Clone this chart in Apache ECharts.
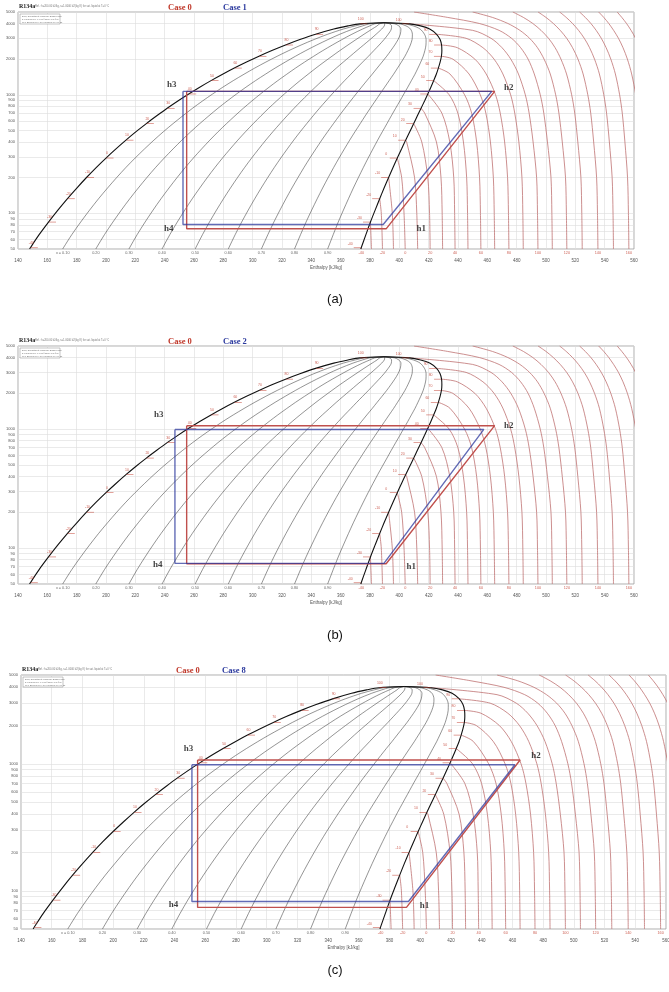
<!DOCTYPE html>
<html>
<head>
<meta charset="utf-8">
<script src="https://cdn.jsdelivr.net/npm/echarts@6/dist/echarts.min.js"></script>
<style>
html, body { margin: 0; padding: 0; background: #fff; }
#chart { width: 669px; height: 992px; }
</style>
</head>
<body>
<div id="chart"></div>
<script>
// R134a saturation line (T in C, p in kPa, h' / h'' in kJ/kg)
var satT  = [-40.4, -40, -35, -30, -25, -20, -15, -10, -5, 0, 5, 10, 15, 20, 25, 30, 35, 40, 45, 50, 55, 60, 65, 70, 75, 80, 85, 90, 95, 98, 100, 101.06];
var satP  = [50.0, 51.2, 66.1, 84.4, 106.5, 132.7, 163.5, 200.6, 243.5, 292.8, 349.6, 414.6, 488.5, 571.7, 665.1, 770.2, 887.5, 1016.6, 1159.9, 1317.9, 1491.6, 1681.8, 1889.8, 2116.8, 2364.0, 2633.2, 2925.6, 3244.2, 3591.2, 3816.0, 3972.4, 4059.3];
var satHf = [147.9, 148.4, 154.4, 160.8, 167.2, 173.6, 180.1, 186.7, 193.3, 200.0, 206.8, 213.6, 220.5, 227.5, 234.6, 241.7, 249.0, 256.4, 263.9, 271.6, 279.5, 287.5, 295.8, 304.3, 313.1, 322.4, 332.2, 342.9, 355.3, 365.0, 373.0, 389.6];
var satHg = [373.7, 374.0, 377.2, 380.3, 383.5, 386.6, 389.6, 392.7, 395.7, 398.6, 401.5, 404.3, 407.1, 409.8, 412.3, 414.8, 417.2, 419.4, 421.5, 423.4, 425.2, 426.6, 427.8, 428.7, 429.0, 428.8, 427.8, 425.4, 420.7, 414.5, 407.0, 389.6];

// vapour quality lines
var qualities = [0.1, 0.2, 0.3, 0.4, 0.5, 0.6, 0.7, 0.8, 0.9];
var qualityLabels = ['x = 0.10', '0.20', '0.30', '0.40', '0.50', '0.60', '0.70', '0.80', '0.90'];

// isotherms: enthalpy at the pressures of isoP (null = inside the dome)
var isoP = [50, 100, 200, 400, 700, 1000, 1500, 2000, 2500, 3000, 3500, 4000, 4500, 5000];
var isoT = [-40, -30, -20, -10, 0, 10, 20, 30, 40, 50, 60, 70, 80, 90, 100, 110, 120, 130, 140, 150, 160, 170, 180];
var isoH = [
  [374.1, null, null, null, null, null, null, null, null, null, null, null, null, null],
  [381.0, null, null, null, null, null, null, null, null, null, null, null, null, null],
  [388.5, 387.7, null, null, null, null, null, null, null, null, null, null, null, null],
  [396.0, 395.2, null, null, null, null, null, null, null, null, null, null, null, null],
  [404.0, 403.2, 401.6, null, null, null, null, null, null, null, null, null, null, null],
  [412.5, 411.9, 410.4, 405.0, null, null, null, null, null, null, null, null, null, null],
  [421.0, 420.6, 419.4, 415.3, null, null, null, null, null, null, null, null, null, null],
  [429.5, 429.2, 428.4, 425.3, 417.3, null, null, null, null, null, null, null, null, null],
  [438.0, 437.7, 437.1, 434.4, 429.0, null, null, null, null, null, null, null, null, null],
  [446.8, 446.5, 445.9, 443.7, 439.9, 434.0, null, null, null, null, null, null, null, null],
  [455.6, 455.3, 454.7, 452.7, 449.3, 444.5, 434.5, null, null, null, null, null, null, null],
  [465.0, 464.7, 464.1, 462.1, 459.0, 455.2, 447.5, 436.5, null, null, null, null, null, null],
  [474.7, 474.4, 473.8, 471.8, 468.8, 465.6, 459.2, 451.5, 439.5, null, null, null, null, null],
  [484.5, 484.2, 483.6, 481.5, 478.7, 475.9, 470.6, 464.6, 457.0, 445.5, null, null, null, null],
  [494.5, 494.2, 493.6, 491.2, 488.5, 485.9, 481.2, 476.0, 470.0, 462.5, 450.0, null, null, null],
  [504.3, 504.0, 503.4, 501.0, 498.5, 496.1, 492.0, 487.8, 482.7, 476.5, 468.0, 454.5, 433.0, 410.0],
  [514.2, 513.9, 513.3, 511.1, 508.8, 506.6, 502.9, 498.7, 494.2, 488.8, 482.2, 474.0, 463.5, 450.0],
  [524.7, 524.4, 523.8, 521.7, 519.6, 517.5, 514.0, 510.2, 506.2, 501.7, 496.6, 491.0, 484.6, 477.4],
  [535.4, 535.1, 534.5, 532.5, 530.5, 528.5, 525.3, 521.8, 518.1, 514.1, 509.7, 505.0, 500.0, 494.6],
  [546.0, 545.7, 545.1, 543.2, 541.3, 539.4, 536.4, 533.1, 529.7, 526.1, 522.2, 518.1, 513.8, 509.3],
  [556.5, 556.2, 555.6, 553.8, 552.0, 550.2, 547.3, 544.2, 541.0, 537.7, 534.2, 530.6, 526.8, 522.9],
  [567.2, 566.9, 566.3, 564.6, 562.9, 561.2, 558.4, 555.5, 552.5, 549.4, 546.1, 542.8, 539.4, 535.9],
  [578.0, 577.7, 577.1, 575.5, 573.9, 572.2, 569.6, 566.8, 564.0, 561.1, 558.0, 554.9, 551.7, 548.5]
];
var isoLabelT = [-40, -20, 0, 20, 40, 60, 80, 100, 120, 140, 160];

var yTicks = [50, 60, 70, 80, 90, 100, 200, 300, 400, 500, 600, 700, 800, 900, 1000, 2000, 3000, 4000, 5000];

// cycles: Case 0 (same in every panel) and the compared case
var case0H = [391.0, 465.0, 255.0];   // h1, h2, h3 (= h4)
var case0P = [74.0, 1070];            // evaporating, condensing
var caseNames = ['Case 1', 'Case 2', 'Case 8'];
var caseH1 = [389.0, 389.5, 392.3];
var caseH2 = [463.0, 457.6, 461.6];
var caseH3 = [252.5, 247.0, 251.3];
var casePe = [80.4, 74.5, 82.4];
var casePc = [1070, 995, 982];
var captions = ['(a)', '(b)', '(c)'];
var stateNames = ['h1', 'h2', 'h3', 'h4'];

var panels = [
  {left: 18, top: 12, width: 616, height: 237, case0X: 168, caseX: 223, captionY: 299,
   hOff: [[35, 0], [14, -4], [-15, -7], [-18, 0]]},
  {left: 18, top: 346, width: 616, height: 238, case0X: 168, caseX: 223, captionY: 635,
   hOff: [[25, 3], [14, 0], [-28, -11], [-29, 1]]},
  {left: 21, top: 675, width: 645, height: 254, case0X: 176, caseX: 222, captionY: 970,
   hOff: [[18, -2], [16, -4], [-9, -11], [-24, -3]]}
];

var RED = '#c0504d', BLUE = '#2e3a9e', ISO = '#bf7272', LBL = '#c0392b';
var tiny = 'Liberation Sans';

var grids = [], xAxes = [], yAxes = [], series = [], graphics = [];

function cyclePath(h1, h2, h3, pe, pc) {
  return [[h3, pc], [h3, pe], [h1, pe], [h2, pc], [h3, pc]];
}

panels.forEach(function (pn, i) {
  grids.push({left: pn.left, top: pn.top, width: pn.width, height: pn.height,
    show: true, borderColor: '#9a9a9a', borderWidth: 0.8, backgroundColor: '#fff',
    containLabel: false, outerBoundsMode: 'none'});
  xAxes.push({type: 'value', gridIndex: i, min: 140, max: 560, interval: 20,
    axisLine: {show: false}, axisTick: {show: false},
    splitLine: {show: true, lineStyle: {color: '#dcdcdc', width: 0.6}},
    axisLabel: {fontSize: 4.5, color: '#555', margin: 9, fontFamily: tiny},
    name: 'Enthalpy [kJ/kg]', nameLocation: 'middle', nameGap: 16,
    nameTextStyle: {fontSize: 4.5, color: '#555', fontFamily: tiny}});
  yAxes.push({type: 'log', logBase: 10, gridIndex: i, min: 50, max: 5000,
    axisLine: {show: false}, axisTick: {show: false, customValues: yTicks},
    splitLine: {show: true, lineStyle: {color: '#dcdcdc', width: 0.6}},
    axisLabel: {customValues: yTicks, fontSize: 4, color: '#555', margin: 3, fontFamily: tiny,
      formatter: function (v) { return String(Math.round(v)); }},
    name: 'Pressure [kPa]', nameLocation: 'middle', nameGap: 12,
    nameTextStyle: {fontSize: 4.5, color: '#555', fontFamily: tiny}});

  var base = {xAxisIndex: i, yAxisIndex: i, symbol: 'none', silent: true, animation: false};

  // isotherms
  isoT.forEach(function (t, r) {
    var pts = [];
    isoP.forEach(function (p, c) { if (isoH[r][c] != null) pts.push([isoH[r][c], p]); });
    var k = satT.indexOf(t);
    if (k >= 0) pts.push([satHg[k], satP[k]]);
    series.push(Object.assign({type: 'line', data: pts, smooth: 0.3, z: 2,
      lineStyle: {color: ISO, width: 0.8}}, base));
  });

  // quality lines
  qualities.forEach(function (q) {
    series.push(Object.assign({type: 'line', smooth: 0.3, z: 3,
      data: satHf.map(function (hf, k) { return [hf + q * (satHg[k] - hf), satP[k]]; }),
      lineStyle: {color: '#3a3a3a', width: 0.55}}, base));
  });

  // saturation dome
  series.push(Object.assign({type: 'line', smooth: 0.3, z: 4,
    data: satHf.map(function (h, k) { return [h, satP[k]]; }),
    lineStyle: {color: '#111', width: 1.1}}, base));
  series.push(Object.assign({type: 'line', smooth: 0.3, z: 4,
    data: satHg.map(function (h, k) { return [h, satP[k]]; }),
    lineStyle: {color: '#111', width: 1.1}}, base));

  // temperature marks on the saturation lines
  var liqMarks = [], vapMarks = [];
  satT.forEach(function (t, k) {
    if (t % 10 === 0) {
      liqMarks.push({value: [satHf[k], satP[k]], name: String(t)});
      vapMarks.push({value: [satHg[k], satP[k]], name: String(t)});
    }
  });
  series.push({type: 'scatter', xAxisIndex: i, yAxisIndex: i, silent: true, z: 6,
    symbol: 'rect', symbolSize: [7, 0.6], symbolOffset: [4, 0], itemStyle: {color: LBL},
    data: liqMarks,
    label: {show: true, formatter: '{b}', position: 'inside', offset: [-3, -5],
      fontSize: 3.5, color: LBL, fontFamily: tiny}});
  series.push({type: 'scatter', xAxisIndex: i, yAxisIndex: i, silent: true, z: 6,
    symbol: 'rect', symbolSize: [7, 0.6], symbolOffset: [-4, 0], itemStyle: {color: LBL},
    data: vapMarks,
    label: {show: true, formatter: '{b}', position: 'inside', offset: [-7, -4],
      fontSize: 3.5, color: LBL, fontFamily: tiny}});

  // labels along the bottom edge
  series.push({type: 'scatter', xAxisIndex: i, yAxisIndex: i, silent: true, symbolSize: 0,
    data: isoLabelT.map(function (t) { return {value: [isoH[isoT.indexOf(t)][0], 50], name: String(t)}; }),
    label: {show: true, formatter: '{b}', position: 'bottom', distance: 2,
      fontSize: 3.8, color: LBL, fontFamily: tiny}});
  series.push({type: 'scatter', xAxisIndex: i, yAxisIndex: i, silent: true, symbolSize: 0,
    data: qualities.map(function (q, j) {
      return {value: [satHf[0] + q * (satHg[0] - satHf[0]), 50], name: qualityLabels[j]};
    }),
    label: {show: true, formatter: '{b}', position: 'bottom', distance: 2,
      fontSize: 3.8, color: '#444', fontFamily: tiny}});

  // cycles
  series.push(Object.assign({type: 'line', z: 8,
    data: cyclePath(case0H[0], case0H[1], case0H[2], case0P[0], case0P[1]),
    lineStyle: {color: RED, width: 1.4}}, base));
  series.push(Object.assign({type: 'line', z: 9,
    data: cyclePath(caseH1[i], caseH2[i], caseH3[i], casePe[i], casePc[i]),
    lineStyle: {color: BLUE, width: 1.4, opacity: 0.75}}, base));

  // state labels
  var anchors = [[case0H[0], case0P[0]], [case0H[1], case0P[1]], [case0H[2], case0P[1]], [case0H[2], case0P[0]]];
  series.push({type: 'scatter', xAxisIndex: i, yAxisIndex: i, silent: true, symbolSize: 0, z: 10,
    data: anchors.map(function (a, j) {
      return {value: a, name: stateNames[j],
        label: {offset: pn.hOff[j]}};
    }),
    label: {show: true, formatter: '{b}', position: 'inside',
      fontSize: 9, fontWeight: 'bold', color: '#111', fontFamily: 'Liberation Serif'}});

  // header texts
  graphics.push({type: 'text', x: pn.left + 1, y: pn.top - 6, silent: true,
    style: {text: 'R134a', font: 'bold 6px "Liberation Serif"', fill: '#222', textVerticalAlign: 'middle'}});
  graphics.push({type: 'text', x: pn.left + 17, y: pn.top - 6, silent: true,
    style: {text: 'Ref.: h=200.00 kJ/kg, s=1.0000 kJ/(kg K) for sat. liquid at T=0 \u00b0C',
      font: '2.6px "Liberation Sans"', fill: '#777', textVerticalAlign: 'middle'}});
  graphics.push({type: 'rect', silent: true, z: 20,
    shape: {x: pn.left + 2, y: pn.top + 2, width: 40, height: 10},
    style: {fill: '#fff', stroke: '#888', lineWidth: 0.5}});
  ['DTU, Department of Energy Engineering', 's in [kJ/(kg K)]. v in [m^3/kg]. T in [\u00baC]',
   'M.J. Skovrup & H.J.H Knudsen. 19-09-18'].forEach(function (s, j) {
    graphics.push({type: 'text', x: pn.left + 4, y: pn.top + 4.5 + j * 2.8, silent: true, z: 21,
      style: {text: s, font: '2.2px "Liberation Sans"', fill: '#666', textVerticalAlign: 'middle'}});
  });
  graphics.push({type: 'text', x: pn.case0X, y: pn.top - 4, silent: true,
    style: {text: 'Case 0', font: 'bold 8.5px "Liberation Serif"', fill: '#c0392b', textVerticalAlign: 'middle'}});
  graphics.push({type: 'text', x: pn.caseX, y: pn.top - 4, silent: true,
    style: {text: caseNames[i], font: 'bold 8.5px "Liberation Serif"', fill: '#2c3a9e', textVerticalAlign: 'middle'}});
  graphics.push({type: 'text', x: 335, y: pn.captionY, silent: true,
    style: {text: captions[i], font: '13px "Liberation Sans"', fill: '#111',
      textAlign: 'center', textVerticalAlign: 'middle'}});
});

var chart = echarts.init(document.getElementById('chart'));
chart.setOption({
  animation: false,
  backgroundColor: '#fff',
  grid: grids,
  xAxis: xAxes,
  yAxis: yAxes,
  series: series,
  graphic: graphics
});
</script>
</body>
</html>
